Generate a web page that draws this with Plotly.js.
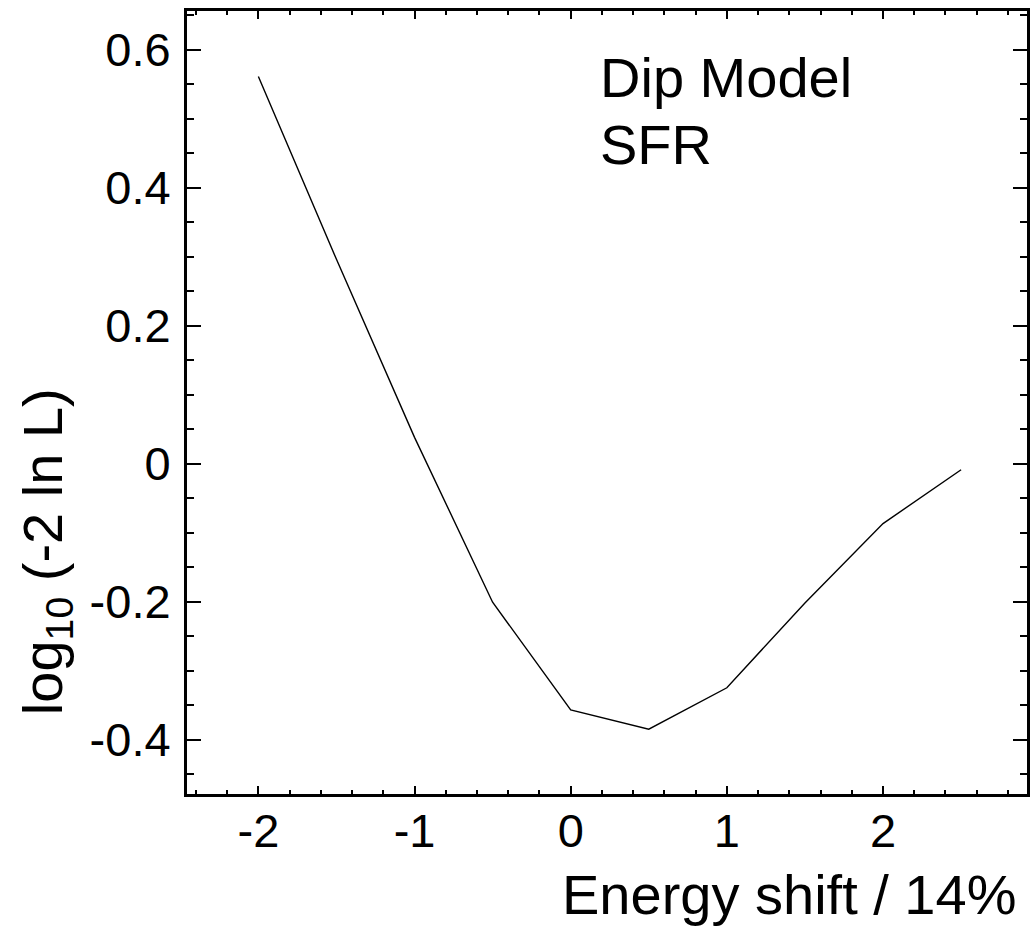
<!DOCTYPE html>
<html>
<head>
<meta charset="utf-8">
<script src="https://cdn.plot.ly/plotly-3.0.1.min.js"></script>
<style>html,body{margin:0;padding:0;background:#fff;}#chart{width:1030px;height:941px;}</style>
</head>
<body>
<div id="chart"></div>
<script>
// Data
const energyShift = [-2, -1.5, -1, -0.5, 0, 0.5, 1, 1.5, 2, 2.5];
const logLikelihood = [0.561, 0.296, 0.038, -0.201, -0.357, -0.385, -0.325, -0.202, -0.087, -0.009];

const xTickVals = [-2, -1, 0, 1, 2];
const xTickText = ["-2", "-1", "0", "1", "2"];
const yTickVals = [0.6, 0.4, 0.2, 0, -0.2, -0.4];
const yTickText = ["0.6", "0.4", "0.2", "0", "-0.2", "-0.4"];

const xTitle = "Energy shift / 14%";
const yTitle = "log<sub>10</sub> (-2 ln L)";
const labelLines = ["Dip Model", "SFR"];

const FONT = "Liberation Sans, Arial, Helvetica, sans-serif";

const trace = {
  x: energyShift,
  y: logLikelihood,
  type: "scatter",
  mode: "lines",
  line: {color: "#000", width: 1.4},
  hoverinfo: "skip"
};

const layout = {
  width: 1030,
  height: 941,
  margin: {l: 187, r: 3, t: 11, b: 147, pad: 0},
  paper_bgcolor: "#fff",
  plot_bgcolor: "#fff",
  showlegend: false,
  font: {family: FONT, color: "#000", size: 48},
  xaxis: {
    range: [-2.457, 2.922],
    tickmode: "array",
    tickvals: xTickVals,
    ticktext: xTickText,
    ticks: "inside",
    ticklen: 8,
    tickwidth: 2,
    tickcolor: "#000",
    showline: true,
    linewidth: 3,
    linecolor: "#000",
    mirror: "ticks",
    showgrid: false,
    zeroline: false,
    tickfont: {family: FONT, size: 47, color: "#000"},
    ticklabelstandoff: -6,
    minor: {tickmode: "linear", tick0: 0, dtick: 0.2, ticks: "inside", ticklen: 4, tickwidth: 2, tickcolor: "#000", showgrid: false}
  },
  yaxis: {
    range: [-0.479, 0.656],
    tickmode: "array",
    tickvals: yTickVals,
    ticktext: yTickText,
    ticks: "inside",
    ticklen: 14,
    tickwidth: 2,
    tickcolor: "#000",
    showline: true,
    linewidth: 3,
    linecolor: "#000",
    mirror: "ticks",
    showgrid: false,
    zeroline: false,
    tickfont: {family: FONT, size: 47, color: "#000"},
    ticklabelstandoff: 4,
    minor: {tickmode: "linear", tick0: 0, dtick: 0.05, ticks: "inside", ticklen: 7, tickwidth: 2, tickcolor: "#000", showgrid: false}
  },
  annotations: [
    {text: xTitle, xref: "paper", yref: "paper", x: 0.989, y: -0.086, xanchor: "right", yanchor: "top",
     showarrow: false, font: {family: FONT, size: 56, color: "#000"}},
    {text: yTitle, xref: "paper", yref: "paper", x: -0.168, y: 0.31, xanchor: "center", yanchor: "middle",
     textangle: -90, showarrow: false, font: {family: FONT, size: 56, color: "#000"}},
    {text: labelLines[0], xref: "paper", yref: "paper", x: 0.4895, y: 0.958, xanchor: "left", yanchor: "top",
     showarrow: false, font: {family: FONT, size: 56, color: "#000"}},
    {text: labelLines[1], xref: "paper", yref: "paper", x: 0.4895, y: 0.872, xanchor: "left", yanchor: "top",
     showarrow: false, font: {family: FONT, size: 56, color: "#000"}}
  ]
};

Plotly.newPlot("chart", [trace], layout, {staticPlot: true, displayModeBar: false});
</script>
</body>
</html>
